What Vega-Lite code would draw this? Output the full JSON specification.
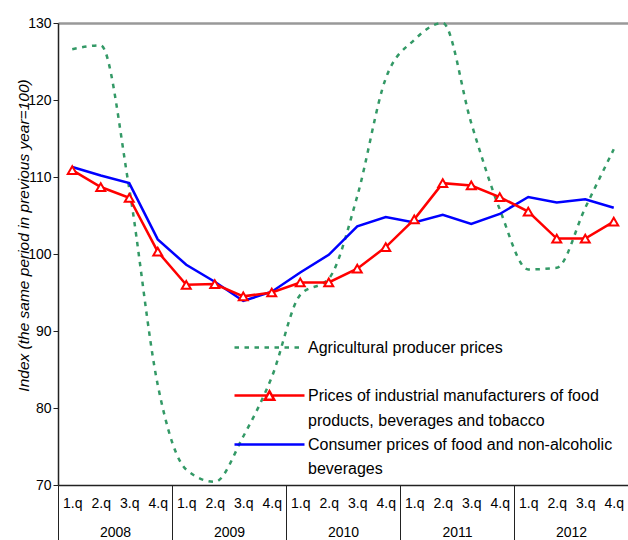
{
  "$schema": "https://vega.github.io/schema/vega-lite/v6.json",
  "width": 570,
  "height": 462,
  "autosize": {"type": "none"},
  "padding": {"left": 58, "top": 23, "right": 0, "bottom": 55},
  "background": "white",
  "config": {
    "view": {"stroke": null},
    "font": "Liberation Sans",
    "axis": {"labelFont": "Liberation Sans", "titleFont": "Liberation Sans", "labelColor": "black", "titleColor": "black"},
    "legend": {"labelFont": "Liberation Sans", "labelColor": "black"}
  },
  "datasets": {
    "main": [
      {"period": "2008-1", "year": "2008", "series": "Agricultural producer prices", "value": 126.6},
      {"period": "2008-2", "year": "2008", "series": "Agricultural producer prices", "value": 127.1},
      {"period": "2008-3", "year": "2008", "series": "Agricultural producer prices", "value": 108.5},
      {"period": "2008-4", "year": "2008", "series": "Agricultural producer prices", "value": 83.0},
      {"period": "2009-1", "year": "2009", "series": "Agricultural producer prices", "value": 72.0},
      {"period": "2009-2", "year": "2009", "series": "Agricultural producer prices", "value": 70.4},
      {"period": "2009-3", "year": "2009", "series": "Agricultural producer prices", "value": 76.3},
      {"period": "2009-4", "year": "2009", "series": "Agricultural producer prices", "value": 84.0},
      {"period": "2010-1", "year": "2010", "series": "Agricultural producer prices", "value": 94.7},
      {"period": "2010-2", "year": "2010", "series": "Agricultural producer prices", "value": 96.8},
      {"period": "2010-3", "year": "2010", "series": "Agricultural producer prices", "value": 107.5},
      {"period": "2010-4", "year": "2010", "series": "Agricultural producer prices", "value": 122.8},
      {"period": "2011-1", "year": "2011", "series": "Agricultural producer prices", "value": 127.8},
      {"period": "2011-2", "year": "2011", "series": "Agricultural producer prices", "value": 130.0},
      {"period": "2011-3", "year": "2011", "series": "Agricultural producer prices", "value": 117.0},
      {"period": "2011-4", "year": "2011", "series": "Agricultural producer prices", "value": 105.8},
      {"period": "2012-1", "year": "2012", "series": "Agricultural producer prices", "value": 98.0},
      {"period": "2012-2", "year": "2012", "series": "Agricultural producer prices", "value": 98.2},
      {"period": "2012-3", "year": "2012", "series": "Agricultural producer prices", "value": 106.0},
      {"period": "2012-4", "year": "2012", "series": "Agricultural producer prices", "value": 113.6},
      {"period": "2008-1", "year": "2008", "series": "Prices of industrial manufacturers of food products, beverages and tobacco", "value": 110.9},
      {"period": "2008-2", "year": "2008", "series": "Prices of industrial manufacturers of food products, beverages and tobacco", "value": 108.7},
      {"period": "2008-3", "year": "2008", "series": "Prices of industrial manufacturers of food products, beverages and tobacco", "value": 107.3},
      {"period": "2008-4", "year": "2008", "series": "Prices of industrial manufacturers of food products, beverages and tobacco", "value": 100.3},
      {"period": "2009-1", "year": "2009", "series": "Prices of industrial manufacturers of food products, beverages and tobacco", "value": 96.0},
      {"period": "2009-2", "year": "2009", "series": "Prices of industrial manufacturers of food products, beverages and tobacco", "value": 96.1},
      {"period": "2009-3", "year": "2009", "series": "Prices of industrial manufacturers of food products, beverages and tobacco", "value": 94.5},
      {"period": "2009-4", "year": "2009", "series": "Prices of industrial manufacturers of food products, beverages and tobacco", "value": 95.0},
      {"period": "2010-1", "year": "2010", "series": "Prices of industrial manufacturers of food products, beverages and tobacco", "value": 96.3},
      {"period": "2010-2", "year": "2010", "series": "Prices of industrial manufacturers of food products, beverages and tobacco", "value": 96.3},
      {"period": "2010-3", "year": "2010", "series": "Prices of industrial manufacturers of food products, beverages and tobacco", "value": 98.1},
      {"period": "2010-4", "year": "2010", "series": "Prices of industrial manufacturers of food products, beverages and tobacco", "value": 100.9},
      {"period": "2011-1", "year": "2011", "series": "Prices of industrial manufacturers of food products, beverages and tobacco", "value": 104.5},
      {"period": "2011-2", "year": "2011", "series": "Prices of industrial manufacturers of food products, beverages and tobacco", "value": 109.2},
      {"period": "2011-3", "year": "2011", "series": "Prices of industrial manufacturers of food products, beverages and tobacco", "value": 108.9},
      {"period": "2011-4", "year": "2011", "series": "Prices of industrial manufacturers of food products, beverages and tobacco", "value": 107.4},
      {"period": "2012-1", "year": "2012", "series": "Prices of industrial manufacturers of food products, beverages and tobacco", "value": 105.5},
      {"period": "2012-2", "year": "2012", "series": "Prices of industrial manufacturers of food products, beverages and tobacco", "value": 102.0},
      {"period": "2012-3", "year": "2012", "series": "Prices of industrial manufacturers of food products, beverages and tobacco", "value": 102.0},
      {"period": "2012-4", "year": "2012", "series": "Prices of industrial manufacturers of food products, beverages and tobacco", "value": 104.2},
      {"period": "2008-1", "year": "2008", "series": "Consumer prices of food and non-alcoholic beverages", "value": 111.3},
      {"period": "2008-2", "year": "2008", "series": "Consumer prices of food and non-alcoholic beverages", "value": 110.2},
      {"period": "2008-3", "year": "2008", "series": "Consumer prices of food and non-alcoholic beverages", "value": 109.2},
      {"period": "2008-4", "year": "2008", "series": "Consumer prices of food and non-alcoholic beverages", "value": 101.9},
      {"period": "2009-1", "year": "2009", "series": "Consumer prices of food and non-alcoholic beverages", "value": 98.6},
      {"period": "2009-2", "year": "2009", "series": "Consumer prices of food and non-alcoholic beverages", "value": 96.4},
      {"period": "2009-3", "year": "2009", "series": "Consumer prices of food and non-alcoholic beverages", "value": 93.9},
      {"period": "2009-4", "year": "2009", "series": "Consumer prices of food and non-alcoholic beverages", "value": 95.1},
      {"period": "2010-1", "year": "2010", "series": "Consumer prices of food and non-alcoholic beverages", "value": 97.6},
      {"period": "2010-2", "year": "2010", "series": "Consumer prices of food and non-alcoholic beverages", "value": 99.9},
      {"period": "2010-3", "year": "2010", "series": "Consumer prices of food and non-alcoholic beverages", "value": 103.6},
      {"period": "2010-4", "year": "2010", "series": "Consumer prices of food and non-alcoholic beverages", "value": 104.8},
      {"period": "2011-1", "year": "2011", "series": "Consumer prices of food and non-alcoholic beverages", "value": 104.1},
      {"period": "2011-2", "year": "2011", "series": "Consumer prices of food and non-alcoholic beverages", "value": 105.1},
      {"period": "2011-3", "year": "2011", "series": "Consumer prices of food and non-alcoholic beverages", "value": 103.9},
      {"period": "2011-4", "year": "2011", "series": "Consumer prices of food and non-alcoholic beverages", "value": 105.2},
      {"period": "2012-1", "year": "2012", "series": "Consumer prices of food and non-alcoholic beverages", "value": 107.4},
      {"period": "2012-2", "year": "2012", "series": "Consumer prices of food and non-alcoholic beverages", "value": 106.7},
      {"period": "2012-3", "year": "2012", "series": "Consumer prices of food and non-alcoholic beverages", "value": 107.1},
      {"period": "2012-4", "year": "2012", "series": "Consumer prices of food and non-alcoholic beverages", "value": 106.0}
    ]
  },
  "layer": [
    {
      "data": {"name": "main"},
      "encoding": {
        "x": {
          "field": "period", "type": "ordinal", "sort": null,
          "axis": {
            "orient": "bottom", "title": null, "domainColor": "#222222", "domainWidth": 1.5,
            "ticks": false, "grid": false, "labelAngle": 0,
            "labelExpr": "split(datum.label, '-')[1] + '.q'",
            "labelFontSize": 14, "labelPadding": 11, "labelBaseline": "top"
          }
        },
        "y": {
          "field": "value", "type": "quantitative",
          "scale": {"domain": [70, 130], "nice": false, "zero": false},
          "axis": {
            "values": [70, 80, 90, 100, 110, 120, 130],
            "title": "Index (the same period in previous year=100)",
            "titleFontStyle": "italic", "titleFontWeight": "normal", "titleFontSize": 15.5,
            "titleX": -30, "titleY": 212, "titleAngle": 270, "titleAlign": "center", "titleBaseline": "alphabetic",
            "domainColor": "#222222", "domainWidth": 1.5, "tickColor": "#222222", "tickSize": 5, "tickWidth": 1,
            "labelFontSize": 14, "labelPadding": 2,
            "grid": true,
            "gridColor": {"condition": {"test": "datum.value === 130", "value": "#999999"}, "value": "transparent"},
            "gridWidth": 2.5
          }
        }
      },
      "layer": [
        {
          "transform": [{"filter": "datum.series === 'Agricultural producer prices'"}],
          "mark": {"type": "line", "interpolate": "monotone", "strokeWidth": 2.5, "color": "#339966", "strokeDash": [4.5, 5.5]}
        },
        {
          "transform": [{"filter": "datum.series === 'Consumer prices of food and non-alcoholic beverages'"}],
          "mark": {"type": "line", "strokeWidth": 2.5, "color": "#0000FF"}
        },
        {
          "transform": [{"filter": "datum.series === 'Prices of industrial manufacturers of food products, beverages and tobacco'"}],
          "mark": {"type": "line", "strokeWidth": 2.5, "color": "#FF0000"}
        },
        {
          "transform": [{"filter": "datum.series === 'Prices of industrial manufacturers of food products, beverages and tobacco'"}],
          "mark": {"type": "point", "shape": "triangle-up", "filled": true, "fill": "white", "stroke": "#FF0000", "strokeWidth": 2, "size": 80, "opacity": 1}
        },
        {
          "mark": {"type": "point", "opacity": 0, "filled": false},
          "encoding": {
            "color": {
              "field": "series", "type": "nominal",
              "scale": {
                "domain": ["Agricultural producer prices", "gap", "Prices of industrial manufacturers of food products, beverages and tobacco", "cont1", "Consumer prices of food and non-alcoholic beverages", "cont2"],
                "range": ["#339966", "transparent", "#FF0000", "transparent", "#0000FF", "transparent"]
              },
              "legend": {
                "orient": "none", "legendX": 175, "legendY": 313, "title": null, "padding": 0,
                "symbolSize": 400, "symbolStrokeWidth": 2.5, "symbolOpacity": 1, "symbolFillColor": "white",
                "labelFontSize": 16, "labelLimit": 500, "labelOffset": 52, "rowPadding": 4,
                "labelBaseline": "middle",
                "labelExpr": "datum.label === 'gap' ? '' : datum.label === 'cont1' ? 'products, beverages and tobacco' : datum.label === 'cont2' ? 'beverages' : datum.label === 'Consumer prices of food and non-alcoholic beverages' ? 'Consumer prices of food and non-alcoholic' : datum.label === 'Prices of industrial manufacturers of food products, beverages and tobacco' ? 'Prices of industrial manufacturers of food' : datum.label"
              }
            },
            "shape": {
              "field": "series", "type": "nominal",
              "scale": {
                "domain": ["Agricultural producer prices", "gap", "Prices of industrial manufacturers of food products, beverages and tobacco", "cont1", "Consumer prices of food and non-alcoholic beverages", "cont2"],
                "range": ["M-1,0L6,0", "M0,0", "M-1,0L2.28,0M2.72,0L6,0M2.03,0.42L2.97,0.42L2.5,-0.42Z", "M0,0", "M-1,0L6,0", "M0,0"]
              },
              "legend": {
                "orient": "none", "legendX": 175, "legendY": 313, "title": null, "padding": 0,
                "symbolSize": 400, "symbolStrokeWidth": 2.5, "symbolOpacity": 1, "symbolFillColor": "white",
                "labelFontSize": 16, "labelLimit": 500, "labelOffset": 52, "rowPadding": 4,
                "labelBaseline": "middle",
                "labelExpr": "datum.label === 'gap' ? '' : datum.label === 'cont1' ? 'products, beverages and tobacco' : datum.label === 'cont2' ? 'beverages' : datum.label === 'Consumer prices of food and non-alcoholic beverages' ? 'Consumer prices of food and non-alcoholic' : datum.label === 'Prices of industrial manufacturers of food products, beverages and tobacco' ? 'Prices of industrial manufacturers of food' : datum.label"
              }
            },
            "strokeDash": {
              "field": "series", "type": "nominal",
              "scale": {
                "domain": ["Agricultural producer prices", "gap", "Prices of industrial manufacturers of food products, beverages and tobacco", "cont1", "Consumer prices of food and non-alcoholic beverages", "cont2"],
                "range": [[4.5, 5.5], [1, 0], [1, 0], [1, 0], [1, 0], [1, 0]]
              },
              "legend": {
                "orient": "none", "legendX": 175, "legendY": 313, "title": null, "padding": 0,
                "symbolSize": 400, "symbolStrokeWidth": 2.5, "symbolOpacity": 1, "symbolFillColor": "white",
                "labelFontSize": 16, "labelLimit": 500, "labelOffset": 52, "rowPadding": 4,
                "labelBaseline": "middle",
                "labelExpr": "datum.label === 'gap' ? '' : datum.label === 'cont1' ? 'products, beverages and tobacco' : datum.label === 'cont2' ? 'beverages' : datum.label === 'Consumer prices of food and non-alcoholic beverages' ? 'Consumer prices of food and non-alcoholic' : datum.label === 'Prices of industrial manufacturers of food products, beverages and tobacco' ? 'Prices of industrial manufacturers of food' : datum.label"
              }
            }
          }
        }
      ]
    },
    {
      "data": {"name": "main"},
      "mark": {"type": "point", "opacity": 0},
      "encoding": {
        "x": {
          "field": "year", "type": "ordinal",
          "scale": {"type": "band", "paddingInner": 0, "paddingOuter": 0},
          "axis": {
            "orient": "bottom", "title": null, "domain": false, "grid": false,
            "ticks": true, "tickBand": "extent", "tickSize": 55, "tickColor": "#222222", "tickWidth": 1,
            "labelAngle": 0, "labelFontSize": 14, "labelPadding": -15, "labelBaseline": "top"
          }
        }
      }
    }
  ],
  "resolve": {"scale": {"x": "independent"}}
}
